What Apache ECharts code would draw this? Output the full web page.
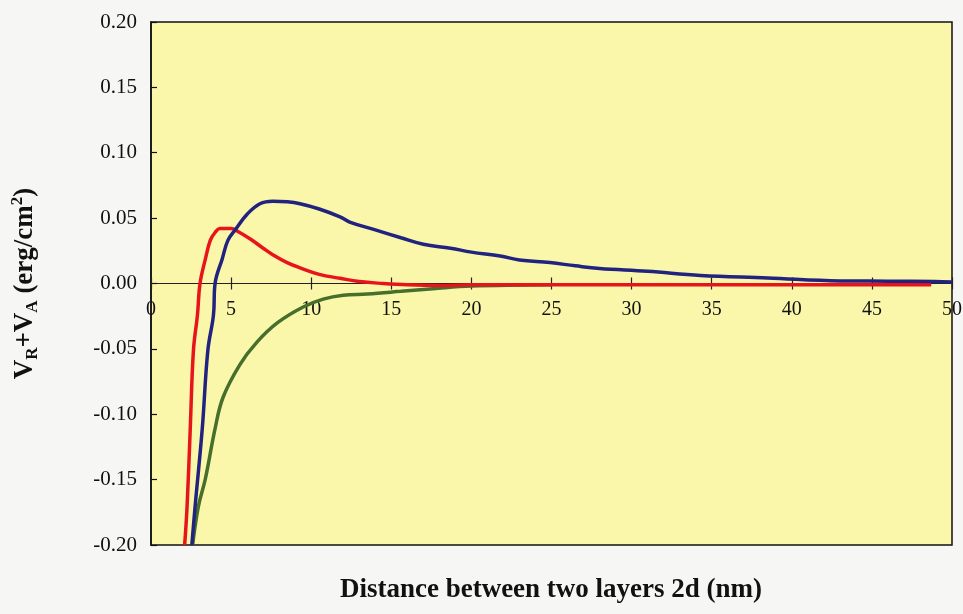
<!DOCTYPE html>
<html>
<head>
<meta charset="utf-8">
<script src="https://cdn.jsdelivr.net/npm/echarts@6/dist/echarts.min.js"></script>
<style>
  html, body { margin: 0; padding: 0; background: #f6f6f4; }
  #chart { width: 963px; height: 614px; }
</style>
</head>
<body>
<div id="chart"></div>
<script>
// distance 2d (nm) and V_R+V_A (erg/cm^2)
const redD = [2.1, 2.25, 2.45, 2.65, 2.9, 3.06, 3.4, 3.7, 4.0, 4.3, 5.0, 5.4, 6.2, 7.0, 7.6, 8.5, 9.3, 10.5, 11.8, 13, 14.5, 16, 18, 20, 25, 30, 35, 40, 45, 48.7];
const redV = [-0.2, -0.171, -0.111, -0.051, -0.024, 0, 0.019, 0.033, 0.039, 0.042, 0.042, 0.040, 0.034, 0.027, 0.022, 0.016, 0.012, 0.007, 0.004, 0.0015, 0, -0.001, -0.0015, -0.001, -0.001, -0.001, -0.001, -0.001, -0.001, -0.001];

const blueD = [2.55, 2.75, 3.2, 3.55, 3.9, 4.0, 4.45, 4.8, 5.25, 6.0, 6.8, 7.6, 8.5, 9.3, 10.5, 11.8, 12.4, 14, 15.6, 17, 18.7, 20, 21.8, 23, 24.9, 26.5, 28, 31, 34.3, 38.5, 43, 46, 48.9, 50];
const blueV = [-0.2, -0.171, -0.111, -0.051, -0.024, 0, 0.019, 0.033, 0.041, 0.053, 0.061, 0.063, 0.0625, 0.061, 0.057, 0.051, 0.047, 0.041, 0.035, 0.030, 0.027, 0.024, 0.021, 0.018, 0.016, 0.0135, 0.0115, 0.0094, 0.0062, 0.0043, 0.002, 0.0018, 0.0015, 0.0012];

const greenD = [2.6, 2.95, 3.4, 4.0, 4.5, 5.55, 6.6, 7.9, 9.5, 10.75, 12, 13.5, 15.6, 17.6, 20, 25];
const greenV = [-0.2, -0.171, -0.149, -0.111, -0.087, -0.062, -0.045, -0.03, -0.018, -0.012, -0.009, -0.008, -0.006, -0.004, -0.002, -0.001];

const xTicks = { min: 0, max: 50, step: 5 };
const yTicks = { min: -0.2, max: 0.2, step: 0.05 };

const zip = (xs, ys) => xs.map((x, i) => [x, ys[i]]);

const chart = echarts.init(document.getElementById("chart"));

const font = "'Liberation Serif', 'DejaVu Serif', serif";
const H = 614;
const box = { left: 151, right: 11, top: 22, bottom: 69, outerBoundsMode: "none" };
// y pixel where value 0 falls inside the main box
const zeroY = box.top + (H - box.top - box.bottom) * (yTicks.max / (yTicks.max - yTicks.min));

const lineSeries = (name, xs, ys, color) => ({
  name,
  type: "line",
  data: zip(xs, ys),
  showSymbol: false,
  smooth: 0.4,
  lineStyle: { color, width: 3.5 },
  z: 3,
});

chart.setOption({
  backgroundColor: "#f6f6f4",
  animation: false,
  grid: [
    { ...box, show: true, backgroundColor: "#fbf7aa", borderColor: "#111", borderWidth: 1.5 },
    // upper half of the box: its bottom edge sits on y = 0, carries tick labels
    { ...box, bottom: H - zeroY, show: false },
  ],
  graphic: [
    {
      type: "text",
      x: 551,
      y: 590,
      style: {
        text: "Distance between two layers 2d (nm)",
        fontFamily: font,
        fontWeight: "bold",
        fontSize: 27,
        fill: "#111",
        align: "center",
        verticalAlign: "middle",
      },
    },
  ],
  xAxis: [
    {
      type: "value",
      gridIndex: 0,
      min: xTicks.min,
      max: xTicks.max,
      interval: xTicks.step,
      axisLine: { onZero: true, lineStyle: { color: "#222", width: 1 } },
      axisTick: { inside: true, length: 6, lineStyle: { color: "#222", width: 1.2 } },
      axisLabel: { show: false },
      splitLine: { show: false },
    },
    {
      type: "value",
      gridIndex: 1,
      position: "bottom",
      min: xTicks.min,
      max: xTicks.max,
      interval: xTicks.step,
      axisLine: { show: false, onZero: false },
      axisTick: { inside: false, length: 6, lineStyle: { color: "#222", width: 1.2 } },
      axisLabel: { color: "#111", fontFamily: font, fontSize: 20, margin: 16 },
      splitLine: { show: false },
    },
  ],
  yAxis: [
    {
      type: "value",
      gridIndex: 0,
      min: yTicks.min,
      max: yTicks.max,
      interval: yTicks.step,
      axisLine: { show: true, lineStyle: { color: "#111", width: 1.5 } },
      axisTick: { inside: true, length: 6, lineStyle: { color: "#111", width: 1.2 } },
      axisLabel: {
        color: "#111",
        fontFamily: font,
        fontSize: 21,
        margin: 14,
        formatter: (v) => v.toFixed(2),
      },
      splitLine: { show: false },
      name: "{b|V}{s|R}{b|+V}{s|A}{b| (erg/cm}{p|2}{b|)}",
      nameLocation: "middle",
      nameRotate: 90,
      nameGap: 110,
      nameTextStyle: {
        rich: {
          b: { fontFamily: font, fontWeight: "bold", fontSize: 27, color: "#111", lineHeight: 32, verticalAlign: "middle" },
          s: { fontFamily: font, fontWeight: "bold", fontSize: 17, color: "#111", lineHeight: 32, verticalAlign: "bottom" },
          p: { fontFamily: font, fontWeight: "bold", fontSize: 17, color: "#111", lineHeight: 32, verticalAlign: "top" },
        },
      },
    },
    {
      type: "value",
      gridIndex: 1,
      min: 0,
      max: yTicks.max,
      show: false,
    },
  ],
  series: [
    lineSeries("green", greenD, greenV, "#466f2c"),
    lineSeries("red", redD, redV, "#e8141c"),
    lineSeries("blue", blueD, blueV, "#22237e"),
  ],
});
</script>
</body>
</html>
